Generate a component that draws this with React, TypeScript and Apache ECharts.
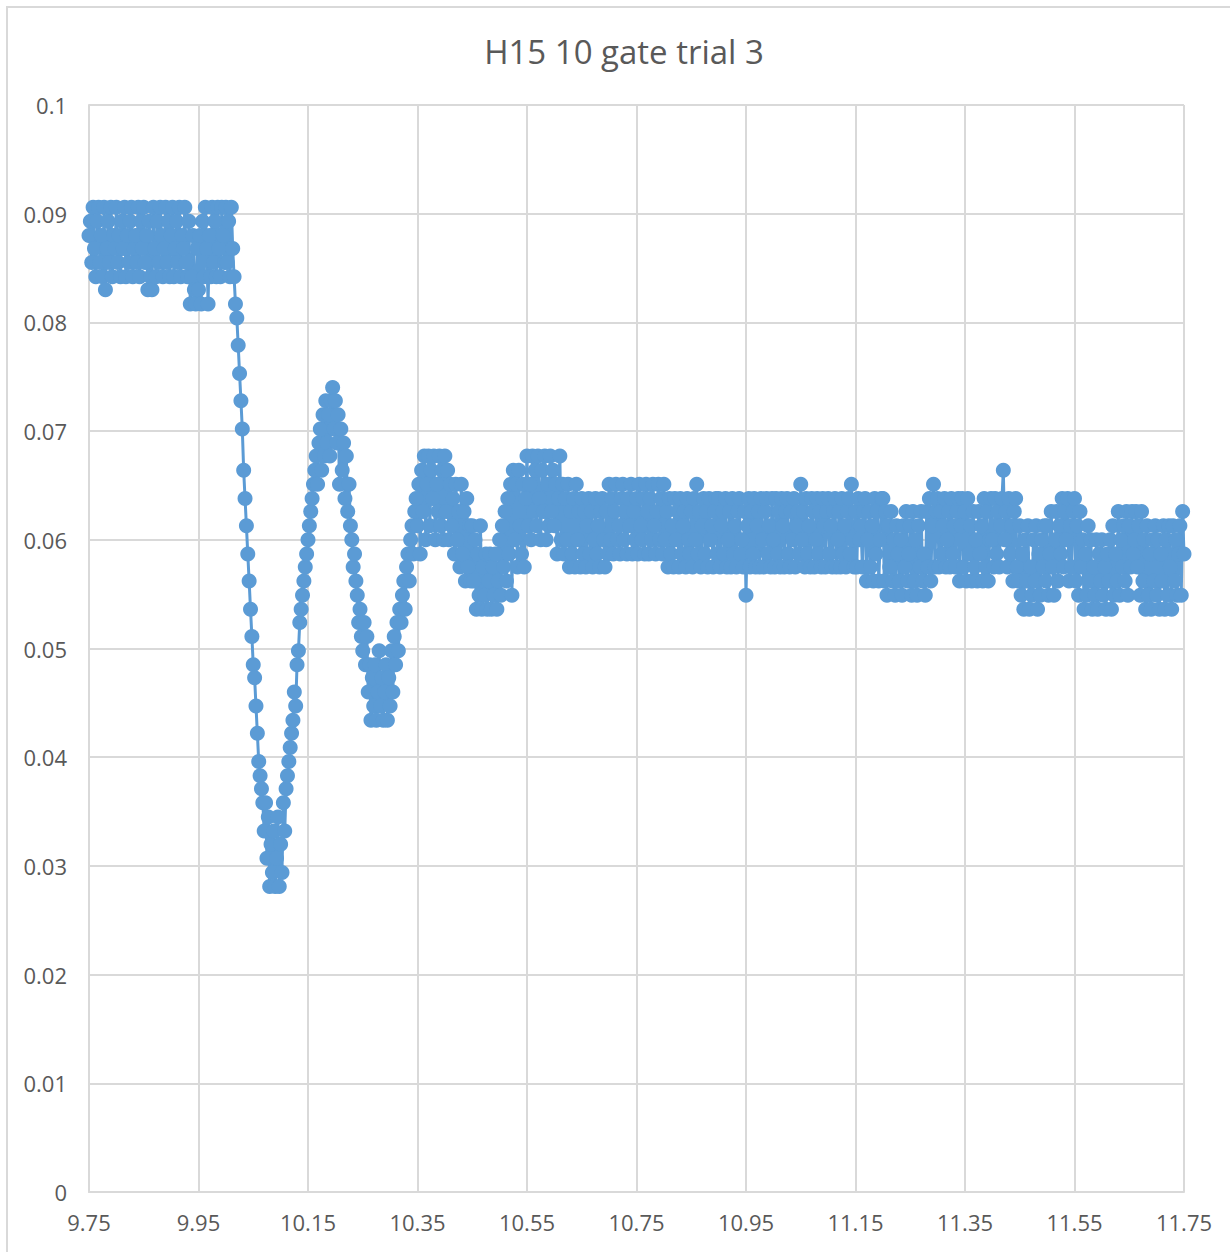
import { useEffect, useRef } from "react";
import * as echarts from "echarts";

const TITLE = "H15 10 gate trial 3";

// sampling of the recorded trace
const START_TIME = 9.75;
const SAMPLE_INTERVAL = 0.0025;

// axis ranges and tick spacing
const X_MIN = 9.75;
const X_MAX = 11.75;
const X_STEP = 0.2;
const Y_MIN = 0;
const Y_MAX = 0.1;
const Y_STEP = 0.01;

// 9.75 – 9.9975 s: level before the gate closes
const plateau = [
  0.0880, 0.0893, 0.0855, 0.0906, 0.0868, 0.0842, 0.0893, 0.0906, 0.0855, 0.0880, 0.0842, 0.0906, 0.0830, 0.0868, 0.0893, 0.0855, 0.0906, 0.0842, 0.0880, 0.0868,
  0.0906, 0.0855, 0.0880, 0.0842, 0.0893, 0.0868, 0.0906, 0.0842, 0.0880, 0.0855, 0.0893, 0.0906, 0.0842, 0.0868, 0.0880, 0.0855, 0.0906, 0.0842, 0.0893, 0.0868,
  0.0906, 0.0855, 0.0880, 0.0830, 0.0893, 0.0842, 0.0830, 0.0906, 0.0868, 0.0842, 0.0893, 0.0855, 0.0906, 0.0880, 0.0842, 0.0868, 0.0906, 0.0855, 0.0893, 0.0842,
  0.0880, 0.0906, 0.0842, 0.0868, 0.0893, 0.0855, 0.0906, 0.0842, 0.0880, 0.0868, 0.0906, 0.0855, 0.0842, 0.0893, 0.0817, 0.0842, 0.0880, 0.0830, 0.0817, 0.0868,
  0.0830, 0.0880, 0.0817, 0.0893, 0.0842, 0.0906, 0.0868, 0.0817, 0.0880, 0.0842, 0.0906, 0.0855, 0.0893, 0.0842, 0.0906, 0.0868, 0.0842, 0.0906, 0.0880, 0.0855,
];

// 10.00 – 10.3475 s: drop, first trough and first rebound
const collapse = [
  0.0906, 0.0855, 0.0893, 0.0842, 0.0906, 0.0868, 0.0842, 0.0817, 0.0804, 0.0779, 0.0753, 0.0728, 0.0702, 0.0664, 0.0638, 0.0613, 0.0587, 0.0562, 0.0536, 0.0511,
  0.0485, 0.0473, 0.0447, 0.0422, 0.0396, 0.0383, 0.0371, 0.0358, 0.0332, 0.0358, 0.0307, 0.0345, 0.0281, 0.0320, 0.0294, 0.0332, 0.0281, 0.0307, 0.0345, 0.0281,
  0.0320, 0.0294, 0.0358, 0.0332, 0.0371, 0.0383, 0.0396, 0.0409, 0.0422, 0.0434, 0.0460, 0.0447, 0.0485, 0.0498, 0.0524, 0.0536, 0.0549, 0.0562, 0.0575, 0.0587,
  0.0600, 0.0613, 0.0626, 0.0638, 0.0651, 0.0664, 0.0677, 0.0651, 0.0689, 0.0702, 0.0664, 0.0715, 0.0677, 0.0728, 0.0689, 0.0715, 0.0677, 0.0728, 0.0740, 0.0702,
  0.0728, 0.0689, 0.0715, 0.0651, 0.0702, 0.0664, 0.0689, 0.0638, 0.0677, 0.0626, 0.0651, 0.0613, 0.0600, 0.0575, 0.0587, 0.0562, 0.0549, 0.0524, 0.0536, 0.0511,
  0.0498, 0.0524, 0.0485, 0.0511, 0.0460, 0.0485, 0.0434, 0.0473, 0.0447, 0.0485, 0.0434, 0.0460, 0.0498, 0.0447, 0.0473, 0.0434, 0.0460, 0.0485, 0.0434, 0.0473,
  0.0447, 0.0498, 0.0460, 0.0511, 0.0485, 0.0524, 0.0498, 0.0536, 0.0524, 0.0549, 0.0562, 0.0536, 0.0575, 0.0587, 0.0562, 0.0600, 0.0613, 0.0587, 0.0626, 0.0638,
];

// 10.35 – 10.6475 s: damped swings
const recovery = [
  0.0613, 0.0651, 0.0587, 0.0664, 0.0626, 0.0677, 0.0600, 0.0651, 0.0677, 0.0613, 0.0664, 0.0638, 0.0677, 0.0600, 0.0651, 0.0626, 0.0677, 0.0613, 0.0664, 0.0600,
  0.0677, 0.0626, 0.0664, 0.0600, 0.0651, 0.0613, 0.0638, 0.0587, 0.0651, 0.0600, 0.0626, 0.0575, 0.0651, 0.0587, 0.0626, 0.0562, 0.0638, 0.0575, 0.0613, 0.0562,
  0.0613, 0.0562, 0.0600, 0.0536, 0.0587, 0.0549, 0.0613, 0.0536, 0.0575, 0.0549, 0.0587, 0.0536, 0.0562, 0.0587, 0.0536, 0.0575, 0.0549, 0.0587, 0.0536, 0.0562,
  0.0600, 0.0549, 0.0613, 0.0575, 0.0626, 0.0562, 0.0638, 0.0587, 0.0651, 0.0549, 0.0664, 0.0600, 0.0651, 0.0575, 0.0664, 0.0613, 0.0587, 0.0651, 0.0575, 0.0638,
  0.0677, 0.0613, 0.0651, 0.0600, 0.0677, 0.0626, 0.0664, 0.0613, 0.0677, 0.0638, 0.0600, 0.0664, 0.0626, 0.0677, 0.0600, 0.0651, 0.0613, 0.0677, 0.0626, 0.0664,
  0.0613, 0.0651, 0.0587, 0.0638, 0.0677, 0.0600, 0.0651, 0.0587, 0.0638, 0.0600, 0.0651, 0.0575, 0.0626, 0.0587, 0.0638, 0.0575, 0.0651, 0.0600, 0.0626, 0.0575,
];

// 10.65 – 11.75 s: settled level
const steady = [
  0.0638, 0.0587, 0.0626, 0.0575, 0.0613, 0.0638, 0.0587, 0.0626, 0.0575, 0.0600, 0.0638, 0.0587, 0.0613, 0.0575, 0.0626, 0.0638, 0.0600, 0.0575, 0.0626, 0.0587,
  0.0651, 0.0600, 0.0638, 0.0587, 0.0626, 0.0651, 0.0600, 0.0613, 0.0587, 0.0638, 0.0651, 0.0600, 0.0626, 0.0587, 0.0638, 0.0613, 0.0651, 0.0587, 0.0626, 0.0600,
  0.0638, 0.0587, 0.0651, 0.0613, 0.0600, 0.0638, 0.0587, 0.0651, 0.0626, 0.0587, 0.0638, 0.0600, 0.0651, 0.0613, 0.0587, 0.0626, 0.0651, 0.0600, 0.0638, 0.0587,
  0.0651, 0.0600, 0.0626, 0.0575, 0.0638, 0.0587, 0.0613, 0.0575, 0.0638, 0.0600, 0.0626, 0.0575, 0.0638, 0.0587, 0.0613, 0.0626, 0.0575, 0.0638, 0.0600, 0.0587,
  0.0626, 0.0575, 0.0638, 0.0600, 0.0651, 0.0587, 0.0626, 0.0575, 0.0613, 0.0638, 0.0587, 0.0626, 0.0575, 0.0638, 0.0600, 0.0613, 0.0575, 0.0626, 0.0638, 0.0587,
  0.0638, 0.0575, 0.0613, 0.0626, 0.0587, 0.0638, 0.0575, 0.0600, 0.0626, 0.0575, 0.0638, 0.0587, 0.0613, 0.0575, 0.0626, 0.0638, 0.0587, 0.0600, 0.0575, 0.0626,
  0.0549, 0.0613, 0.0638, 0.0575, 0.0626, 0.0587, 0.0638, 0.0575, 0.0613, 0.0626, 0.0575, 0.0638, 0.0600, 0.0575, 0.0626, 0.0638, 0.0587, 0.0613, 0.0575, 0.0638,
  0.0600, 0.0575, 0.0638, 0.0587, 0.0626, 0.0575, 0.0638, 0.0613, 0.0575, 0.0626, 0.0638, 0.0587, 0.0575, 0.0626, 0.0600, 0.0638, 0.0575, 0.0613, 0.0626, 0.0587,
  0.0651, 0.0600, 0.0626, 0.0575, 0.0638, 0.0587, 0.0613, 0.0575, 0.0638, 0.0626, 0.0575, 0.0600, 0.0638, 0.0587, 0.0626, 0.0575, 0.0638, 0.0613, 0.0575, 0.0626,
  0.0638, 0.0587, 0.0613, 0.0575, 0.0626, 0.0638, 0.0575, 0.0600, 0.0626, 0.0575, 0.0638, 0.0587, 0.0613, 0.0575, 0.0626, 0.0638, 0.0587, 0.0651, 0.0600, 0.0575,
  0.0626, 0.0575, 0.0638, 0.0600, 0.0613, 0.0575, 0.0626, 0.0638, 0.0562, 0.0600, 0.0626, 0.0575, 0.0613, 0.0562, 0.0638, 0.0587, 0.0626, 0.0562, 0.0600, 0.0638,
  0.0638, 0.0562, 0.0626, 0.0549, 0.0613, 0.0575, 0.0626, 0.0562, 0.0600, 0.0549, 0.0613, 0.0587, 0.0562, 0.0600, 0.0549, 0.0613, 0.0575, 0.0626, 0.0562, 0.0587,
  0.0613, 0.0549, 0.0626, 0.0562, 0.0600, 0.0549, 0.0613, 0.0575, 0.0626, 0.0562, 0.0587, 0.0549, 0.0626, 0.0575, 0.0638, 0.0562, 0.0613, 0.0651, 0.0575, 0.0626,
  0.0638, 0.0575, 0.0626, 0.0587, 0.0613, 0.0638, 0.0575, 0.0600, 0.0626, 0.0575, 0.0638, 0.0587, 0.0613, 0.0575, 0.0626, 0.0638, 0.0562, 0.0613, 0.0638, 0.0575,
  0.0626, 0.0562, 0.0638, 0.0587, 0.0613, 0.0562, 0.0626, 0.0575, 0.0600, 0.0562, 0.0626, 0.0587, 0.0613, 0.0562, 0.0638, 0.0575, 0.0626, 0.0562, 0.0600, 0.0638,
  0.0600, 0.0575, 0.0638, 0.0587, 0.0626, 0.0575, 0.0613, 0.0638, 0.0664, 0.0600, 0.0626, 0.0575, 0.0638, 0.0587, 0.0613, 0.0562, 0.0626, 0.0638, 0.0575, 0.0562,
  0.0613, 0.0549, 0.0587, 0.0536, 0.0600, 0.0562, 0.0613, 0.0536, 0.0575, 0.0549, 0.0600, 0.0562, 0.0613, 0.0536, 0.0587, 0.0549, 0.0600, 0.0575, 0.0613, 0.0562,
  0.0613, 0.0549, 0.0587, 0.0626, 0.0575, 0.0549, 0.0600, 0.0626, 0.0562, 0.0613, 0.0587, 0.0638, 0.0575, 0.0626, 0.0600, 0.0638, 0.0562, 0.0613, 0.0575, 0.0626,
  0.0638, 0.0562, 0.0613, 0.0549, 0.0626, 0.0575, 0.0600, 0.0536, 0.0587, 0.0549, 0.0613, 0.0562, 0.0600, 0.0536, 0.0575, 0.0549, 0.0600, 0.0536, 0.0587, 0.0562,
  0.0600, 0.0549, 0.0575, 0.0536, 0.0587, 0.0562, 0.0600, 0.0536, 0.0613, 0.0549, 0.0587, 0.0562, 0.0626, 0.0549, 0.0600, 0.0575, 0.0613, 0.0562, 0.0626, 0.0549,
  0.0613, 0.0575, 0.0626, 0.0587, 0.0600, 0.0626, 0.0575, 0.0613, 0.0549, 0.0626, 0.0562, 0.0600, 0.0536, 0.0613, 0.0549, 0.0587, 0.0536, 0.0600, 0.0562, 0.0613,
  0.0549, 0.0600, 0.0536, 0.0587, 0.0562, 0.0613, 0.0536, 0.0600, 0.0549, 0.0613, 0.0575, 0.0536, 0.0613, 0.0562, 0.0600, 0.0549, 0.0587, 0.0613, 0.0549, 0.0626,
  0.0587,
];

const SERIES_COLOR = "#5B9BD5";
const TEXT_COLOR = "#595959";
const GRID_COLOR = "#d9d9d9";
const FONT = '"Open Sans", "Liberation Sans", sans-serif';

export default function App() {
  const ref = useRef<HTMLDivElement>(null);

  useEffect(() => {
    if (!ref.current) return;
    const chart = echarts.init(ref.current, undefined, { renderer: "svg" });

    const readings = [...plateau, ...collapse, ...recovery, ...steady];
    const points = readings.map((v, i) => [
      Number((START_TIME + i * SAMPLE_INTERVAL).toFixed(4)),
      v,
    ]);

    chart.setOption({
      animation: false,
      backgroundColor: "#ffffff",
      textStyle: { fontFamily: FONT },
      grid: { left: 89, top: 105, width: 1095, height: 1087 },
      graphic: [
        {
          type: "rect",
          silent: true,
          shape: { x: 7, y: 7, width: 1240, height: 1260 },
          style: { fill: "none", stroke: GRID_COLOR, lineWidth: 2 },
        },
        {
          type: "text",
          silent: true,
          x: 624,
          y: 51,
          style: {
            text: TITLE,
            fill: TEXT_COLOR,
            font: `33px ${FONT}`,
            align: "center",
            verticalAlign: "middle",
            textAlign: "center",
            textVerticalAlign: "middle",
          },
        },
      ],
      xAxis: {
        type: "value",
        min: X_MIN,
        max: X_MAX,
        interval: X_STEP,
        axisLine: { show: true, lineStyle: { color: GRID_COLOR, width: 2 } },
        axisTick: { show: false },
        splitLine: { show: true, lineStyle: { color: GRID_COLOR, width: 2 } },
        axisLabel: {
          color: TEXT_COLOR,
          fontSize: 22,
          fontFamily: FONT,
          margin: 19,
          formatter: (v: number) => v.toFixed(2),
        },
      },
      yAxis: {
        type: "value",
        min: Y_MIN,
        max: Y_MAX,
        interval: Y_STEP,
        axisLine: { show: true, lineStyle: { color: GRID_COLOR, width: 2 } },
        axisTick: { show: false },
        splitLine: { show: true, lineStyle: { color: GRID_COLOR, width: 2 } },
        axisLabel: {
          color: TEXT_COLOR,
          fontSize: 22,
          fontFamily: FONT,
          margin: 22,
          formatter: (v: number) => String(Number(v.toFixed(2))),
        },
      },
      series: [
        {
          type: "line",
          data: points,
          symbol: "circle",
          symbolSize: 15,
          showSymbol: true,
          showAllSymbol: true,
          lineStyle: { color: SERIES_COLOR, width: 3 },
          itemStyle: { color: SERIES_COLOR },
          emphasis: { disabled: true },
        },
      ],
    });

    return () => chart.dispose();
  }, []);

  return (
    <div
      ref={ref}
      style={{ position: "absolute", left: 0, top: 0, width: 1230, height: 1252 }}
    />
  );
}
